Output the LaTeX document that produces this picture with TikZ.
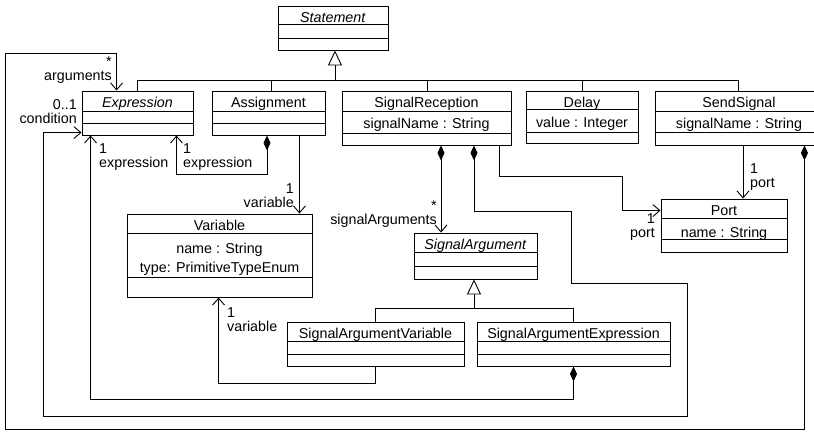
\documentclass[tikz,border=0pt]{standalone}
\usepackage{fontspec}
\setmainfont{Liberation Sans}
\usetikzlibrary{arrows.meta,fit}

\newcommand\umlfont{\fontsize{14.3}{16}\selectfont}
\newcommand\rolefont{\fontsize{14.3}{14.5}\selectfont}

% class box: name, x1, y1, x2, y2, first divider, second divider, title
\newcommand\umlclass[8]{%
  \node[box, fit={(#2,#3) (#4,#5)}] (#1) {};
  \draw[wire] (#2,#6) -- (#4,#6);
  \draw[wire] (#2,#7) -- (#4,#7);
  \node[anchor=base] (#1-name) at ({(#2+#4)/2},{#3+16.3}) {#8};
}

\begin{document}
\begin{tikzpicture}[x=1pt,y=-1pt,
  every node/.style={font=\umlfont, inner sep=0pt},
  box/.style={draw, line width=0.9pt, fill=white, inner sep=0pt},
  wire/.style={line width=0.9pt},
  nav/.style={wire, -{Straight Barb[length=7pt,width=12pt]}},
  comp/.style={wire, {Diamond[length=15pt,width=7pt]}-{Straight Barb[length=7pt,width=12pt]}},
  gen/.style={wire, -{Triangle[open,fill=white,length=15pt,width=14pt]}},
  role/.style={font=\rolefont, inner sep=0pt}]
\useasboundingbox[fill=white] (0,0) rectangle (814,432);

% classes
\umlclass{stmt}{278}{6}{388}{50}{24}{38}{\textit{Statement}}
\umlclass{expr}{82}{91}{193}{135}{111}{123}{\textit{Expression}}
\umlclass{asg}{212}{91}{325}{135}{111}{123}{Assignment}
\umlclass{sr}{342}{91}{511}{145}{111}{133}{SignalReception}
\umlclass{delay}{526}{91}{638}{143}{109}{132}{Delay}
\umlclass{ss}{655}{91}{823}{145}{111}{132}{SendSignal}
\umlclass{port}{661}{199}{787}{252}{218}{239}{Port}
\umlclass{var}{127}{214}{312}{297}{233}{277}{Variable}
\umlclass{sa}{414}{233}{537}{279}{252}{266}{\textit{SignalArgument}}
\umlclass{sav}{287}{322}{464}{366}{341}{354}{SignalArgumentVariable}
\umlclass{sae}{477}{322}{670}{366}{341}{354}{SignalArgumentExpression}

% attributes
\node[anchor=base] (sr-attr) at (sr.center |- 0,128) {signalName : String};
\node[anchor=base] (delay-attr) at (delay.center |- 0,127) {value : Integer};
\node[anchor=base] (ss-attr) at (ss.center |- 0,128.5) {signalName : String};
\node[anchor=base] (port-attr) at (port.center |- 0,237) {name : String};
\node[anchor=base] (var-attr1) at (var.center |- 0,253.5) {name : String};
\node[anchor=base] (var-attr2) at (var.center |- 0,272) {type: PrimitiveTypeEnum};

% generalisation to Statement
\coordinate (topbus) at (335,80);
\coordinate (ss-top) at ([xshift=-1]ss.north);
\coordinate (asg-top) at ([xshift=2.5]asg.north);
\coordinate (sr-top) at ([xshift=0.5]sr.north);
\draw[wire] (expr.north) |- (ss-top |- topbus) -- (ss-top);
\draw[wire] (asg-top) -- (asg-top |- topbus);
\draw[wire] (sr-top) -- (sr-top |- topbus);
\draw[wire] (delay.north) -- (delay.north |- topbus);
\draw[gen] (topbus) -- (topbus |- stmt.south);

% generalisation to SignalArgument
\coordinate (sabus) at (474,308);
\draw[wire] (sav.north) |- (sae.north |- sabus) -- (sae.north);
\draw[gen] (sabus) -- (sabus |- sa.south);

% SendSignal: arguments
\coordinate (ss-comp) at ([xshift=-19]ss.south east);
\coordinate (expr-args) at ([xshift=35]expr.north west);
\draw[comp] (ss-comp) -- ++(0,284) -| (5,53) -| (expr-args);

% SendSignal: port
\coordinate (ss-port) at ([xshift=4]ss.south);
\draw[nav] (ss-port) -- (ss-port |- port.north);

% SignalReception: port
\coordinate (sr-port) at ([xshift=-12]sr.south east);
\coordinate (port-in) at ([yshift=-12]port.north west);
\draw[nav] (sr-port) |- (622,176) |- (port-in);

% SignalReception: signalArguments
\coordinate (sr-args) at ([xshift=14.5]sr.south);
\draw[comp] (sr-args) -- (sr-args |- sa.north);

% SignalReception: condition
\coordinate (sr-cond) at ([xshift=47.5]sr.south);
\coordinate (expr-cond) at ([yshift=-42]expr.north west);
\draw[comp] (sr-cond) |- (571,211) |- (687,283) |- (43,416) |- (expr-cond);

% SignalArgumentExpression: expression
\coordinate (expr-se) at ([xshift=9]expr.south west);
\draw[comp] (sae.south) -- ++(0,33) -| (expr-se);

% SignalArgumentVariable: variable
\coordinate (var-sav) at ([xshift=92]var.south west);
\draw[nav] (sav.south) -- ++(0,17) -| (var-sav);

% Assignment: expression
\coordinate (asg-expr) at ([xshift=-1.5]asg.south);
\coordinate (expr-asg) at ([xshift=-17]expr.south east);
\draw[comp] (asg-expr) -- ++(0,39) -| (expr-asg);

% Assignment: variable
\coordinate (asg-var) at ([xshift=-26]asg.south east);
\draw[nav] (asg-var) -- (asg-var |- var.north);

% role names and multiplicities
\node[role, align=right, anchor=south east] (l-args) at (112,84) {*\\arguments};
\node[role, align=right, anchor=south east] (l-cond) at (77,124) {0..1\\condition};
\node[role, align=left, anchor=north west] (l-sae) at (99,143) {1\\expression};
\node[role, align=left, anchor=north west] (l-asg) at (183,143) {1\\expression};
\node[role, align=right, anchor=south east] (l-var1) at (294,208) {1\\variable};
\node[role, align=left, anchor=north west] (l-var2) at (227,307) {1\\variable};
\node[role, align=right, anchor=south east] (l-sargs) at (437,228) {*\\signalArguments};
\node[role, align=right, anchor=south east] (l-port1) at (655,241) {1\\port};
\node[role, align=left, anchor=south west] (l-port2) at (750,191) {1\\port};
\end{tikzpicture}
\end{document}
